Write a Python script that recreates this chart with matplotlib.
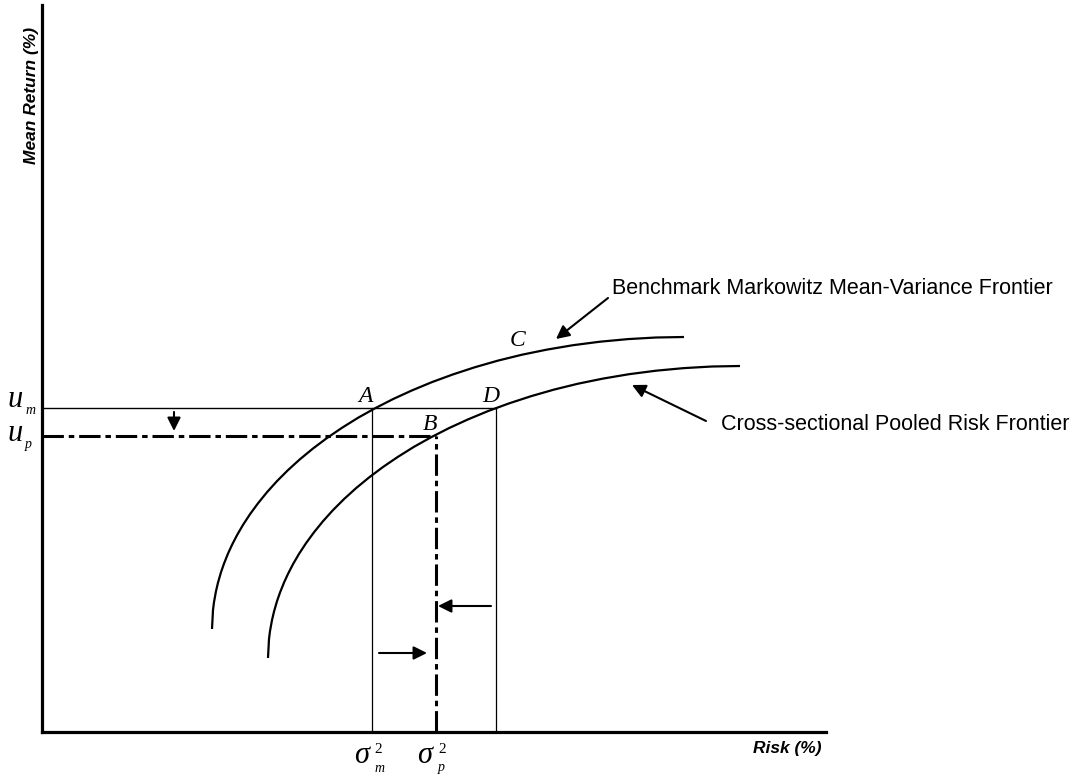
import matplotlib.pyplot as plt

plt.rcParams['font.family'] = ['Liberation Sans', 'DejaVu Sans']

# frontier samples (risk, mean return), arbitrary units
bench_risk = [170, 171, 172, 174, 176, 179, 182, 186, 190, 195, 201, 208, 216, 225, 235, 246, 258, 271,
              285, 300, 316, 333, 351, 370, 390, 411, 433, 456, 480, 505, 531, 558, 586, 614, 642]
bench_ret = [103, 122.0, 129.9, 140.9, 149.4, 159.8, 168.4, 178.4, 187.1, 196.8, 207.1, 217.8, 228.7,
             239.8, 250.9, 261.9, 272.8, 283.5, 294.0, 304.2, 314.2, 323.7, 332.9, 341.6, 349.9, 357.6,
             364.8, 371.4, 377.3, 382.4, 386.8, 390.3, 392.9, 394.5, 395]
pooled_risk = [226, 227, 228, 230, 232, 235, 238, 242, 246, 251, 257, 264, 272, 281, 291, 302, 314, 327,
               341, 356, 372, 389, 407, 426, 446, 467, 489, 512, 536, 561, 587, 614, 642, 670, 698]
pooled_ret = [74, 93.0, 100.9, 111.9, 120.4, 130.8, 139.4, 149.4, 158.1, 167.8, 178.1, 188.8, 199.7,
              210.8, 221.9, 232.9, 243.8, 254.5, 265.0, 275.2, 285.2, 294.7, 303.9, 312.6, 320.9, 328.6,
              335.8, 342.4, 348.3, 353.4, 357.8, 361.3, 363.9, 365.5, 366]

u_m = 324        # point A / D return
u_p = 296        # point B return
sigma_m = 330    # point A risk
sigma_p = 394    # point B risk
sigma_d = 454    # point D risk

fig = plt.figure(figsize=(10.77, 7.76), dpi=100)
ax = fig.add_axes([42 / 1077, 44 / 776, 784 / 1077, 727 / 776])
ax.set_xlim(0, 784)
ax.set_ylim(0, 727)
for s in ['top', 'right']:
  ax.spines[s].set_visible(False)
for s in ['left', 'bottom']:
  ax.spines[s].set_linewidth(2.3)
ax.set_xticks([])
ax.set_yticks([])

dashdot = (0, (7, 1.6, 1.8, 1.6))

ax.plot(bench_risk, bench_ret, color='black', lw=1.6, solid_capstyle='butt')
ax.plot(pooled_risk, pooled_ret, color='black', lw=1.6, solid_capstyle='butt')

# u_m level and the box through A and D
ax.plot([0, sigma_d], [u_m, u_m], color='black', lw=1.0)
ax.plot([sigma_m, sigma_m], [0, u_m], color='black', lw=0.9)
ax.plot([sigma_d, sigma_d], [0, u_m], color='black', lw=0.9)

# u_p level and sigma_p through B
ax.plot([0, sigma_p], [u_p, u_p], color='black', lw=2.2, linestyle=dashdot)
ax.plot([sigma_p, sigma_p], [0, u_p], color='black', lw=2.2, linestyle=dashdot)

arr = dict(arrowstyle='-|>', color='black', lw=1.5, mutation_scale=20, shrinkA=0, shrinkB=0)
ax.annotate('', xy=(132, 301), xytext=(132, 320), arrowprops=arr)
ax.annotate('', xy=(385, 79), xytext=(337, 79), arrowprops=arr)
ax.annotate('', xy=(396, 126), xytext=(449, 126), arrowprops=arr)
ax.annotate('', xy=(514, 393), xytext=(566, 434), arrowprops=arr)
ax.annotate('', xy=(590, 347), xytext=(664, 311), arrowprops=arr)

ax.text(570, 443, 'Benchmark Markowitz Mean-Variance Frontier', fontsize=15.5,
        ha='left', va='center')
ax.text(679, 307, 'Cross-sectional Pooled Risk Frontier', fontsize=15.5,
        ha='left', va='center')

pt = dict(fontsize=17, family='Liberation Serif', style='italic', ha='center', va='center')
ax.text(323, 336, 'A', **pt)
ax.text(449, 336, 'D', **pt)
ax.text(388, 308, 'B', **pt)
ax.text(476, 391, 'C', **pt)

big = dict(fontsize=22, family='Liberation Serif', style='italic', ha='left', va='baseline')
small = dict(fontsize=10, family='Liberation Serif', style='italic', ha='left', va='baseline')
sup = dict(fontsize=11, family='Liberation Serif', ha='left', va='baseline')
ax.text(-35, 325, 'u', **big)
ax.text(-17, 318, 'm', **small)
ax.text(-35, 291, 'u', **big)
ax.text(-17, 284, 'p', **small)
ax.text(312, -31, 'σ', **big)
ax.text(332, -21, '2', **sup)
ax.text(333, -40, 'm', **small)
ax.text(375, -31, 'σ', **big)
ax.text(396, -21, '2', **sup)
ax.text(396, -39, 'p', **small)

ax.text(-10, 636, 'Mean Return (%)', fontsize=12.5, fontweight='bold', style='italic',
        rotation=90, ha='center', va='center')
ax.text(780, -16, 'Risk (%)', fontsize=12.5, fontweight='bold', style='italic',
        ha='right', va='center')

plt.savefig('out.png', dpi=100)
